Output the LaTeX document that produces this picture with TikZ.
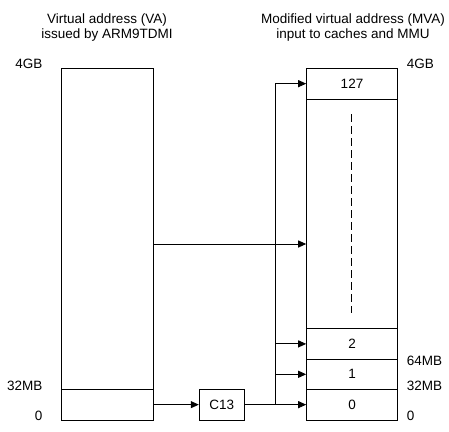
\documentclass[tikz,border=0pt]{standalone}
\usepackage{fontspec}
\setmainfont{Liberation Sans}
\usetikzlibrary{arrows.meta}
\begin{document}
\begin{tikzpicture}[x=1pt,y=-1pt,
  lbl/.style={inner sep=0pt, font=\fontsize{13.5}{15}\selectfont},
  seg/.style={draw, line width=1pt, inner sep=0pt, font=\fontsize{13.5}{15}\selectfont},
  lseg/.style={seg, minimum width=92pt},
  rseg/.style={seg, minimum width=90.6pt},
  conn/.style={line width=1pt},
  arr/.style={conn, -{Triangle[length=8pt,width=7pt]}}]
\useasboundingbox (0,0) rectangle (449,431);
% titles
\node[lbl, align=center, anchor=north] (tva) at (107,13.2) {Virtual address (VA)\\issued by ARM9TDMI};
\node[lbl, align=center, anchor=north] (tmva) at (353,13.2) {Modified virtual address (MVA)\\input to caches and MMU};
% left column
\node[lseg, minimum height=321pt] (lt) at (107,228.8) {};
\node[lseg, minimum height=30.7pt] (lb) at (107,404.65) {};
% right column
\node[rseg, minimum height=30.7pt] (r127) at (352,83.65) {127};
\node[rseg, minimum height=229.5pt] (rmid) at (352,213.75) {};
\node[rseg, minimum height=30.8pt] (r2) at (352,343.9) {2};
\node[rseg, minimum height=30pt] (r1) at (352,374.3) {1};
\node[rseg, minimum height=30.7pt] (r0) at (352,404.65) {0};
% C13
\node[seg, minimum width=45pt, minimum height=30.7pt] (c13) at (221.8,404.65) {C13};
% address labels
\node[lbl, anchor=east] (l4gb) at (42.7,64) {4GB};
\node[lbl, anchor=east] (l32) at (42.7,385.5) {32MB};
\node[lbl, anchor=east] (l0) at (42.7,416) {0};
\node[lbl, anchor=west] (r4gb) at (406.7,64) {4GB};
\node[lbl, anchor=west] (r64) at (406.7,360.5) {64MB};
\node[lbl, anchor=west] (r32) at (406.7,385.5) {32MB};
\node[lbl, anchor=west] (rz) at (406.7,416) {0};
% dashed
\coordinate (dtop) at (351.3,114);
\coordinate (dbot) at (351.3,313);
\draw[conn, dash pattern=on 8pt off 4pt] (dtop) -- (dbot);
% connectors
\coordinate (j) at (275.3,404.65);
\coordinate (m) at (153,244);
\draw[arr] (lb.east) -- (c13.west);
\draw[arr] (c13.east) -- (r0.west);
\draw[arr] (j) -- (j |- r127.west) -- (r127.west);
\draw[arr] (j |- r2.west) -- (r2.west);
\draw[arr] (j |- r1.west) -- (r1.west);
\draw[arr] (lt.east |- m) -- (rmid.west |- m);
\end{tikzpicture}
\end{document}
